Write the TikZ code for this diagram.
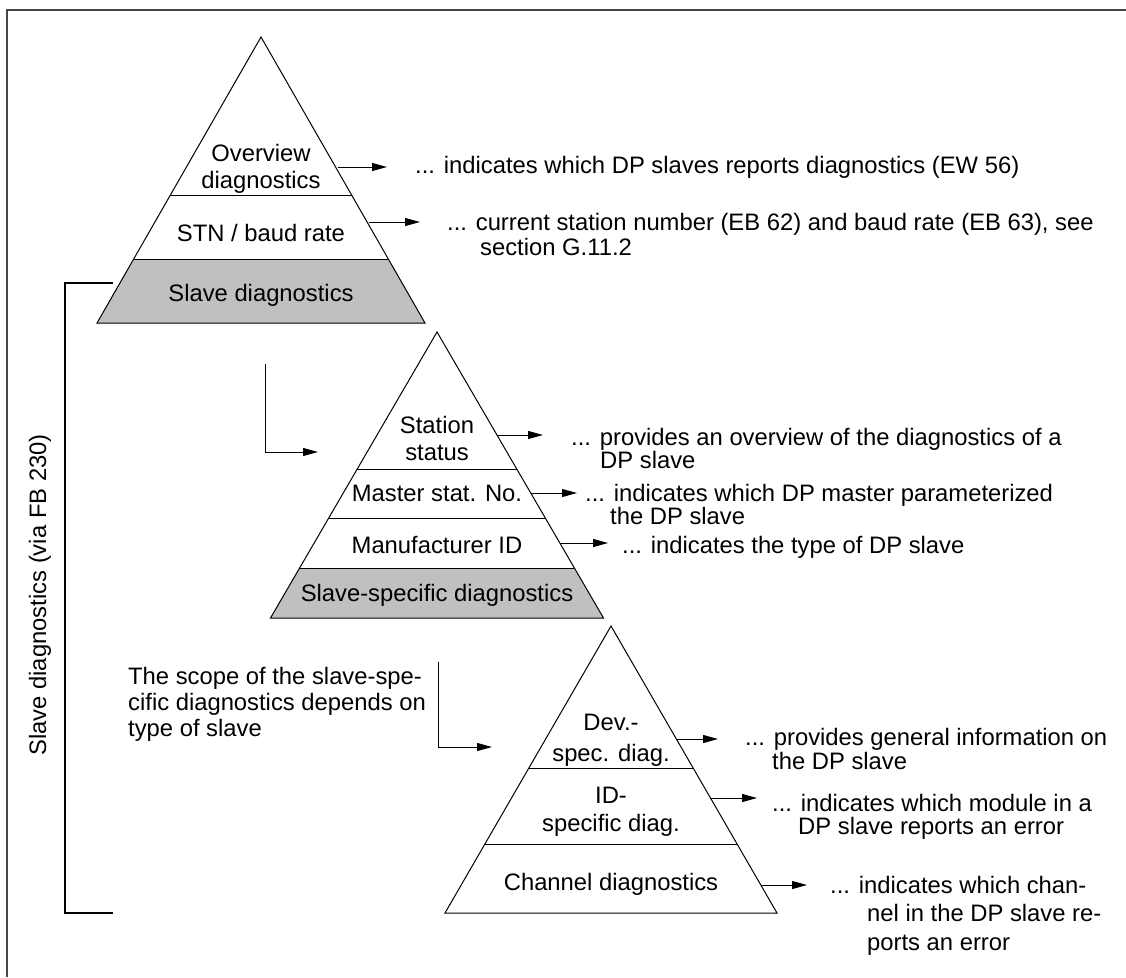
\documentclass[tikz,border=0pt]{standalone}
\usepackage{fontspec}
\setmainfont{Liberation Sans}
\usetikzlibrary{arrows.meta}
\definecolor{layergray}{RGB}{192,192,192}
\definecolor{framegray}{RGB}{70,70,70}
\begin{document}
\begin{tikzpicture}[x=1pt,y=-1pt,
  font=\fontsize{23.8}{27}\selectfont,
  pyr/.style={draw=black, line width=1pt, line join=miter},
  divline/.style={draw=black, line width=1pt},
  lbl/.style={inner sep=0pt, anchor=base},
  note/.style={inner sep=0pt, anchor=base west},
  arr/.style={line width=1pt, -{Triangle[length=15pt,width=8pt]}},
  bracket/.style={line width=2pt}]
\useasboundingbox (0,0) rectangle (1126,977);
% frame (left and top edges)
\draw[framegray, line width=1.3pt] (7,977) -- (7,10) -- (1126,10);

% ---------------- top pyramid
\fill[layergray] (133.7,259) -- (388.3,259) -- (425,323) -- (97,323) -- cycle;
\draw[pyr] (261,37) -- (425,323) -- (97,323) -- cycle;
\draw[divline] (170.4,195) -- (351.6,195);
\draw[divline] (133.7,259) -- (388.3,259);
\node[lbl] (ov1) at (261,161) {Overview};
\node[lbl] (ov2) at (261,188) {diagnostics};
\node[lbl] (stn) at (261,241) {STN / baud rate};
\node[lbl] (sld) at (261,301) {Slave diagnostics};

\coordinate (a1s) at (337.5,167); \coordinate (a1e) at (387,167);
\coordinate (a2s) at (369,222);   \coordinate (a2e) at (420,222);
\draw[arr] (a1s) -- (a1e);
\draw[arr] (a2s) -- (a2e);
\node[note] (t1) at (415,173) {... indicates which DP slaves reports diagnostics (EW 56)};
\node[note] (t2a) at (447,230) {... current station number (EB 62) and baud rate (EB 63), see};
\node[note] (t2b) at (480,255) {section G.11.2};

% ---------------- bracket and vertical label
\coordinate (bt) at (113,283); \coordinate (bb) at (113,913);
\draw[bracket] (bt) -- (65,283) -- (65,913) -- (bb);
\node[inner sep=0pt, rotate=90] (vlab) at (40,595) {Slave diagnostics (via FB 230)};

% ---------------- elbow to middle pyramid
\coordinate (e1s) at (265,364); \coordinate (e1e) at (318,452);
\draw[arr] (e1s) |- (e1e);

% ---------------- middle pyramid
\fill[layergray] (299.6,568) -- (574.4,568) -- (603.5,618) -- (270.5,618) -- cycle;
\draw[pyr] (437,332) -- (603.5,618) -- (270.5,618) -- cycle;
\draw[divline] (357.2,469) -- (516.8,469);
\draw[divline] (328.7,518) -- (545.3,518);
\draw[divline] (299.6,568) -- (574.4,568);
\node[lbl] (ss1) at (437,433) {Station};
\node[lbl] (ss2) at (437,460) {status};
\node[lbl] (msn) at (437,501) {Master stat. No.};
\node[lbl] (mid) at (437,553) {Manufacturer ID};
\node[lbl] (ssd) at (437,601) {Slave-specific diagnostics};

\coordinate (b1s) at (497,435); \coordinate (b1e) at (543,435);
\coordinate (b2s) at (531,493); \coordinate (b2e) at (577,493);
\coordinate (b3s) at (560,543); \coordinate (b3e) at (608,543);
\draw[arr] (b1s) -- (b1e);
\draw[arr] (b2s) -- (b2e);
\draw[arr] (b3s) -- (b3e);
\node[note] (m1a) at (571,445) {... provides an overview of the diagnostics of a};
\node[note] (m1b) at (600,468) {DP slave};
\node[note] (m2a) at (585,501) {... indicates which DP master parameterized};
\node[note] (m2b) at (610,524) {the DP slave};
\node[note] (m3) at (622,553) {... indicates the type of DP slave};

% ---------------- left note and elbow to bottom pyramid
\node[note] (sc1) at (128,684) {The scope of the slave-spe-};
\node[note] (sc2) at (128,710) {cific diagnostics depends on};
\node[note] (sc3) at (128,736) {type of slave};
\coordinate (e2s) at (438,662); \coordinate (e2e) at (492,747);
\draw[arr] (e2s) |- (e2e);

% ---------------- bottom pyramid
\draw[pyr] (611,626) -- (777,913) -- (445,913) -- cycle;
\draw[divline] (528.9,768) -- (693.1,768);
\draw[divline] (484.9,844) -- (737.1,844);
\node[lbl] (dv1) at (611,730) {Dev.-};
\node[lbl] (dv2) at (611,761) {spec. diag.};
\node[lbl] (id1) at (611,803) {ID-};
\node[lbl] (id2) at (611,831) {specific diag.};
\node[lbl] (chd) at (611,890) {Channel diagnostics};

\coordinate (c1s) at (676,739); \coordinate (c1e) at (718,739);
\coordinate (c2s) at (710,798); \coordinate (c2e) at (757,798);
\coordinate (c3s) at (761,885); \coordinate (c3e) at (807,885);
\draw[arr] (c1s) -- (c1e);
\draw[arr] (c2s) -- (c2e);
\draw[arr] (c3s) -- (c3e);
\node[note] (d1a) at (745,745) {... provides general information on};
\node[note] (d1b) at (772,769) {the DP slave};
\node[note] (d2a) at (772,811) {... indicates which module in a};
\node[note] (d2b) at (798,834) {DP slave reports an error};
\node[note] (d3a) at (830,893) {... indicates which chan-};
\node[note] (d3b) at (867,921) {nel in the DP slave re-};
\node[note] (d3c) at (867,950) {ports an error};
\end{tikzpicture}
\end{document}
